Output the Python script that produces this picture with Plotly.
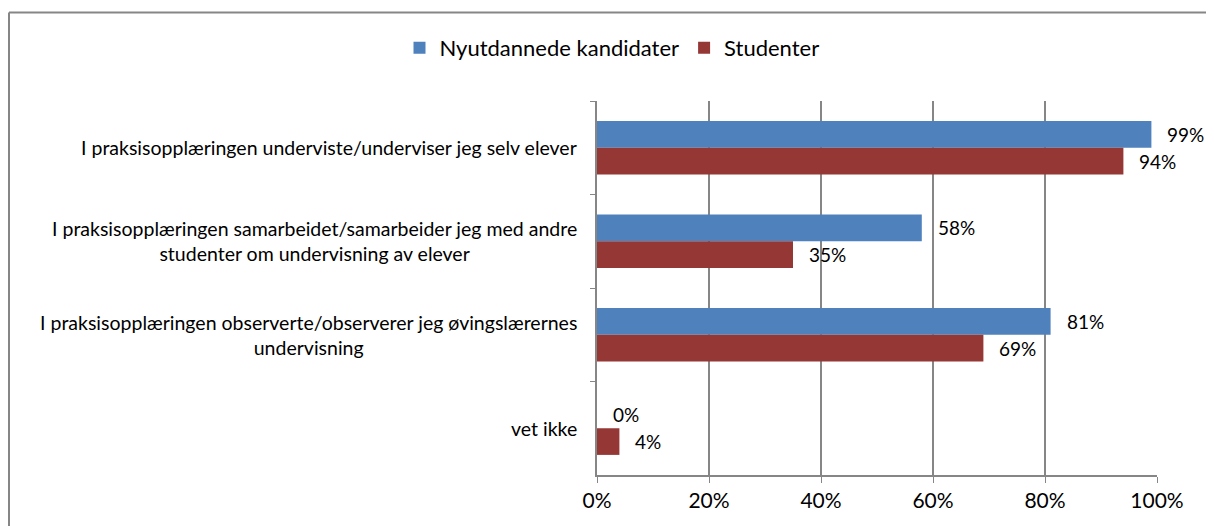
import plotly.graph_objects as go

categories = [
    "I praksisopplæringen underviste/underviser jeg selv elever",
    "I praksisopplæringen samarbeidet/samarbeider jeg med andre<br>studenter om undervisning av elever",
    "I praksisopplæringen observerte/observerer jeg øvingslærernes<br>undervisning",
    "vet ikke",
]
nyutdannede = [99, 58, 81, 0]
studenter = [94, 35, 69, 4]
x_ticks = [0, 20, 40, 60, 80, 100]

BLUE = "#4F81BD"
RED = "#953735"
GRID = "#868686"
FONT = "Lato, Carlito, Calibri, sans-serif"

# the page body has an 8px margin, so work in screen pixels and subtract it
OFF = 8
W, H = 1214 - OFF, 526 - OFF
L, T = 597 - OFF, 101 - OFF
R, B = W - (1157 - OFF), H - (475 - OFF)
pw, ph = W - L - R, H - T - B
band = ph / len(categories)
bar_h = band * 0.57 / 2


def px_x(p):
    return (p - OFF - L) / pw


def px_y(p):
    return (H - B - (p - OFF)) / ph


fig = go.Figure()
series = [
    ("Nyutdannede kandidater", nyutdannede, BLUE, bar_h / 2),
    ("Studenter", studenter, RED, -bar_h / 2),
]
annotations = []
for name, vals, color, shift in series:
    fig.add_trace(
        go.Bar(
            y=categories,
            x=vals,
            name=name,
            orientation="h",
            marker=dict(color=color, line=dict(width=0)),
        )
    )
    for cat, v in zip(categories, vals):
        annotations.append(
            dict(
                x=v, y=cat, xref="x", yref="y",
                text=f"{v}%", showarrow=False,
                xanchor="left", yanchor="middle",
                xshift=14, yshift=shift,
                font=dict(size=19, color="black", family=FONT),
            )
        )

# category labels, centre-aligned like the original
for cat in categories:
    annotations.append(
        dict(
            x=px_x(579), y=cat, xref="paper", yref="y",
            text=cat, showarrow=False,
            xanchor="right", yanchor="middle", align="center",
            font=dict(size=19.5, color="black", family=FONT),
        )
    )

fig.update_layout(
    width=W,
    height=H,
    margin=dict(l=L, r=R, t=T, b=B),
    paper_bgcolor="white",
    plot_bgcolor="white",
    barmode="group",
    bargap=0.43,
    bargroupgap=0,
    font=dict(family=FONT, color="black", size=19),
    legend=dict(
        orientation="h",
        x=px_x(612),
        y=px_y(48),
        xanchor="center",
        yanchor="middle",
        font=dict(size=22),
        itemsizing="constant",
    ),
    annotations=annotations,
    shapes=[
        dict(type="line", xref="paper", yref="paper",
             x0=px_x(9), x1=px_x(1214), y0=px_y(12.5), y1=px_y(12.5),
             line=dict(color=GRID, width=2)),
        dict(type="line", xref="paper", yref="paper",
             x0=px_x(9), x1=px_x(9), y0=px_y(12.5), y1=px_y(526),
             line=dict(color=GRID, width=2)),
    ],
)

fig.update_xaxes(
    range=[0, 100],
    tickvals=x_ticks,
    ticktext=[f"{t}%" for t in x_ticks],
    showgrid=True,
    gridcolor=GRID,
    gridwidth=1.5,
    showline=True,
    linecolor=GRID,
    linewidth=1.5,
    ticks="outside",
    ticklen=6,
    tickcolor=GRID,
    tickfont=dict(size=21),
    zeroline=False,
    automargin=False,
)
fig.update_yaxes(
    autorange="reversed",
    showline=True,
    linecolor=GRID,
    linewidth=1.5,
    ticks="outside",
    tickson="boundaries",
    ticklen=5,
    tickcolor=GRID,
    showticklabels=False,
    showgrid=False,
    automargin=False,
)

fig.write_html("out.html", config={"displayModeBar": False})
